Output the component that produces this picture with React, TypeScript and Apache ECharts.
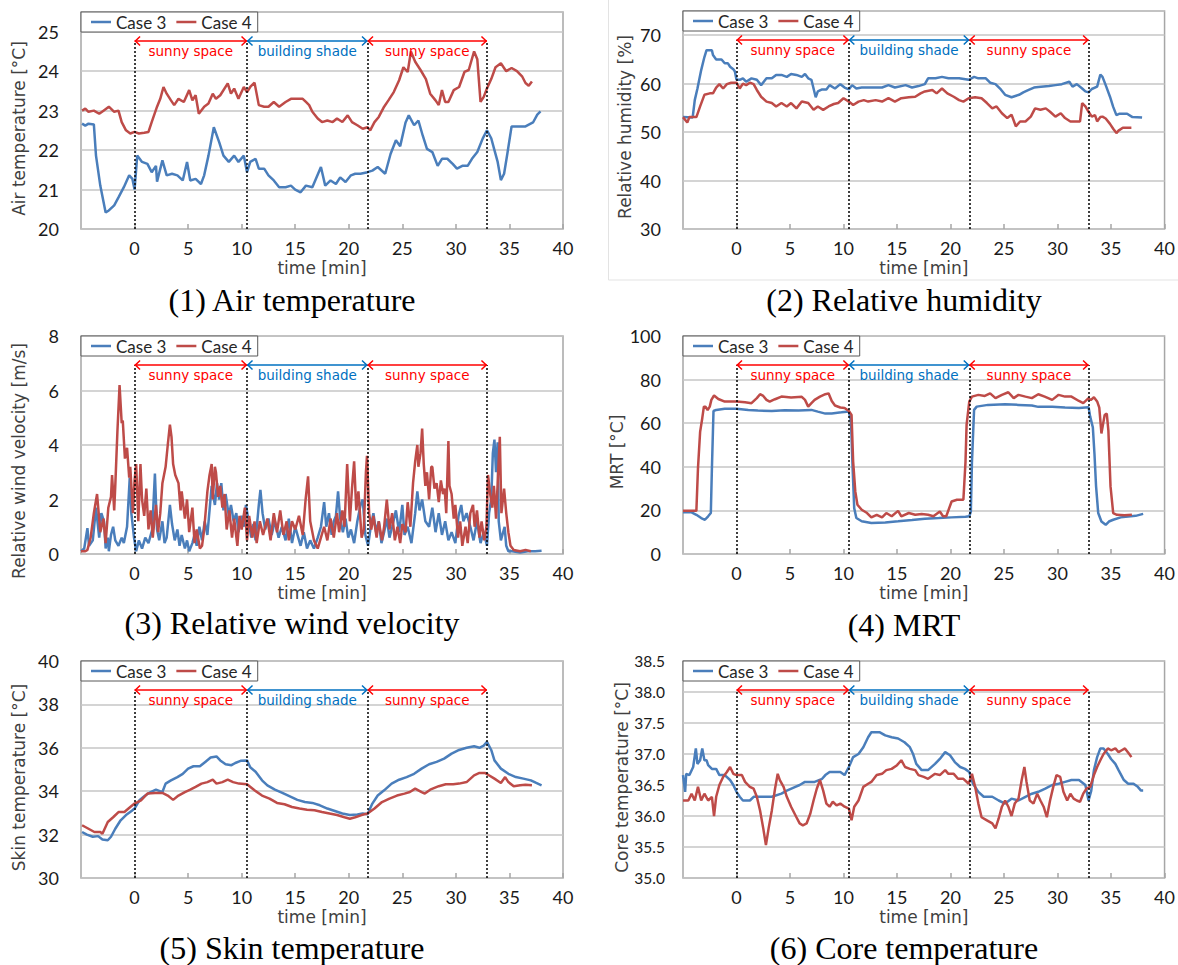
import React, { useEffect, useRef } from 'react';
import * as echarts from 'echarts';

// ---------------- data (time [min], value) ----------------
const AIR_CASE3: number[][] = [[-4.9,22.67],[-4.6,22.62],[-4.3,22.67],[-3.8,22.65],[-3.6,21.86],[-3.2,21.1],[-2.7,20.42],[-2.4,20.47],[-1.9,20.6],[-1.5,20.8],[-1.0,21.06],[-0.5,21.36],[-0.2,21.27],[0,21.0],[0.25,21.86],[0.7,21.7],[1.2,21.65],[1.6,21.44],[2.0,21.6],[2.1,21.2],[2.6,21.74],[3.0,21.36],[3.5,21.4],[4.0,21.36],[4.5,21.23],[4.9,21.7],[5.2,21.23],[5.7,21.27],[6.2,21.14],[6.5,21.36],[6.9,21.86],[7.4,22.58],[7.9,22.2],[8.3,21.86],[8.8,21.7],[9.3,21.86],[9.7,21.7],[10.2,21.86],[10.5,21.44],[10.8,21.7],[11.3,21.78],[11.6,21.53],[12.1,21.53],[12.5,21.36],[13.0,21.23],[13.5,21.06],[14.1,21.06],[14.6,21.1],[15.0,21.0],[15.5,20.93],[16.0,21.1],[16.6,21.06],[17.4,21.57],[17.8,21.1],[18.3,21.23],[18.8,21.14],[19.2,21.31],[19.7,21.19],[20.2,21.36],[20.6,21.4],[21.1,21.4],[21.75,21.44],[22.2,21.48],[22.7,21.57],[23.4,21.4],[23.9,21.9],[24.4,22.25],[24.8,22.1],[25.3,22.7],[25.6,22.88],[26.1,22.63],[26.5,22.75],[26.9,22.37],[27.3,22.03],[27.8,21.95],[28.3,21.6],[28.7,21.78],[29.2,21.78],[29.7,21.65],[30.1,21.53],[30.6,21.6],[31.1,21.6],[31.5,21.78],[32.0,21.95],[32.5,22.29],[32.9,22.5],[33.3,22.3],[33.6,22.0],[33.9,21.7],[34.2,21.24],[34.5,21.4],[34.8,21.9],[35.2,22.6],[35.8,22.6],[36.5,22.6],[37.2,22.7],[37.6,22.9],[37.9,22.98]];
const AIR_CASE4: number[][] = [[-4.9,23.0],[-4.6,23.05],[-4.3,22.97],[-3.8,23.0],[-3.3,22.92],[-2.9,23.0],[-2.4,23.1],[-1.9,22.97],[-1.5,23.0],[-1.2,22.71],[-0.8,22.5],[-0.4,22.42],[0,22.46],[0.4,22.42],[0.9,22.44],[1.3,22.46],[1.6,22.71],[2.1,23.1],[2.4,23.3],[2.7,23.6],[3.0,23.43],[3.4,23.26],[3.7,23.14],[4.1,23.3],[4.6,23.22],[5.1,23.52],[5.4,23.26],[5.7,23.39],[6.0,22.92],[6.5,23.1],[6.9,23.18],[7.3,23.43],[7.6,23.3],[8.0,23.39],[8.7,23.69],[9.0,23.43],[9.3,23.56],[9.7,23.3],[10.2,23.6],[10.5,23.47],[10.8,23.6],[11.2,23.71],[11.6,23.14],[12.1,23.1],[12.5,23.1],[13.0,23.22],[13.5,23.1],[14.1,23.22],[14.6,23.3],[15.0,23.3],[15.7,23.3],[16.0,23.22],[16.3,23.14],[16.6,22.97],[17.1,22.8],[17.5,22.71],[18.0,22.75],[18.5,22.71],[18.9,22.8],[19.4,22.71],[19.9,22.88],[20.3,22.71],[20.8,22.63],[21.3,22.54],[21.75,22.58],[22.0,22.5],[22.4,22.71],[22.8,22.84],[23.3,23.1],[23.7,23.26],[24.2,23.47],[24.7,23.77],[25.1,24.1],[25.5,23.98],[25.8,24.5],[26.2,24.24],[26.7,24.03],[27.2,23.8],[27.6,23.43],[28.1,23.26],[28.4,23.14],[28.7,23.52],[29.0,23.22],[29.3,23.22],[29.8,23.52],[30.3,23.6],[30.8,23.98],[31.2,24.03],[31.7,24.5],[32.0,24.3],[32.3,23.22],[32.6,23.35],[32.9,23.56],[33.3,23.8],[33.7,24.1],[34.2,24.2],[34.7,24.0],[35.2,24.08],[35.7,24.0],[36.2,23.86],[36.5,23.7],[36.8,23.63],[37.1,23.74]];

const RH_CASE3: number[][] = [[-5.0,53.1],[-4.1,53.0],[-3.9,56.6],[-3.65,59.0],[-3.3,62.8],[-3.0,65.5],[-2.8,66.9],[-2.3,66.9],[-2.2,65.9],[-1.9,65.0],[-1.4,65.0],[-1.1,64.2],[-0.8,64.2],[-0.6,63.5],[-0.3,63.0],[-0.15,62.5],[0,60.8],[0.3,60.8],[0.6,61.1],[0.9,60.4],[1.4,61.1],[1.9,60.8],[2.3,59.7],[2.8,61.1],[3.3,61.1],[3.7,61.8],[4.2,61.8],[4.7,61.4],[5.1,62.0],[5.6,61.8],[6.1,61.4],[6.4,62.0],[6.7,61.1],[7.0,60.8],[7.2,59.0],[7.4,57.2],[7.6,58.4],[8.0,58.8],[8.4,58.8],[8.7,59.7],[9.2,59.0],[9.7,59.9],[10.1,59.2],[10.5,58.8],[10.8,59.7],[11.2,59.0],[11.7,59.2],[12.6,59.2],[13.6,59.2],[14.2,59.7],[14.8,59.2],[15.8,59.7],[16.4,59.2],[17.0,59.5],[17.6,59.9],[17.9,61.1],[18.6,61.1],[19.2,61.4],[19.8,61.1],[20.8,61.1],[21.7,60.8],[22.2,61.4],[22.6,61.1],[23.3,61.1],[23.7,60.2],[24.2,59.9],[24.7,58.8],[25.1,57.7],[25.7,57.2],[26.4,57.7],[26.8,58.2],[27.3,58.7],[27.8,59.2],[28.2,59.3],[29.2,59.5],[29.8,59.7],[30.4,59.9],[31.1,60.4],[31.4,59.4],[31.8,59.9],[32.3,59.0],[32.6,58.4],[32.9,58.2],[33.2,58.9],[33.7,59.4],[34.0,61.9],[34.2,61.4],[34.5,59.7],[34.9,57.3],[35.2,55.2],[35.5,53.5],[35.8,53.8],[36.5,53.8],[37.0,53.1],[37.9,53.0]];
const RH_CASE4: number[][] = [[-5.0,53.1],[-4.6,52.0],[-4.4,53.1],[-3.75,53.1],[-3.4,55.3],[-3.0,57.7],[-2.5,58.0],[-2.2,58.0],[-1.9,59.2],[-1.6,59.9],[-1.25,59.0],[-0.9,59.9],[-0.5,60.2],[0,60.2],[0.3,59.0],[0.6,60.0],[0.9,59.7],[1.25,60.2],[1.6,59.9],[1.9,58.7],[2.3,57.3],[2.8,56.3],[3.3,56.0],[3.7,55.3],[4.2,56.0],[4.7,55.3],[5.1,56.0],[5.6,54.9],[6.1,56.3],[6.7,56.0],[7.2,54.6],[7.6,55.3],[8.1,54.6],[8.6,55.3],[9.1,55.8],[9.5,56.0],[10.0,57.0],[10.5,56.3],[10.9,55.6],[11.4,56.3],[11.9,56.6],[12.3,56.3],[13.0,56.6],[13.6,56.3],[14.2,57.0],[14.8,56.3],[15.4,57.0],[16.1,57.2],[16.7,57.3],[17.2,58.0],[17.6,58.4],[18.3,58.7],[18.7,58.0],[19.2,59.0],[19.7,58.0],[20.3,57.3],[20.8,56.6],[21.2,56.3],[21.7,57.0],[22.3,57.2],[22.9,57.0],[23.4,56.0],[23.9,54.9],[24.3,55.3],[24.8,53.9],[25.3,52.9],[25.7,53.6],[26.1,51.2],[26.5,52.2],[27.0,52.2],[27.5,53.2],[27.9,54.9],[28.4,54.6],[28.9,54.9],[29.3,54.2],[29.8,53.2],[30.3,53.9],[30.7,52.9],[31.2,52.2],[31.7,52.2],[32.1,52.2],[32.3,56.0],[32.6,55.3],[32.9,54.2],[33.2,53.2],[33.5,53.5],[33.7,52.2],[34.0,53.1],[34.2,53.2],[34.5,52.8],[34.9,51.7],[35.2,50.7],[35.5,49.8],[35.7,50.3],[36.1,50.9],[36.9,50.9]];

const WIND_CASE3: number[][] = [[-5.0,0.1],[-4.7,0.2],[-4.4,0.95],[-4.25,0.3],[-3.9,0.5],[-3.6,1.7],[-3.3,0.6],[-3.1,1.5],[-2.85,1.2],[-2.7,0.2],[-2.5,0.6],[-2.4,0.1],[-2.2,0.7],[-2.0,1.0],[-1.8,0.5],[-1.5,0.3],[-1.2,0.6],[-1.0,0.4],[-0.7,1.0],[-0.45,2.8],[-0.3,1.5],[-0.05,0.6],[0.15,0.1],[0.4,0.5],[0.7,0.2],[1.0,0.6],[1.3,0.4],[1.65,0.9],[1.9,2.95],[2.1,0.9],[2.3,0.5],[2.6,1.2],[2.8,0.4],[3.0,0.6],[3.3,1.8],[3.5,1.1],[3.75,0.5],[4.0,0.9],[4.2,0.3],[4.4,0.7],[4.7,0.2],[4.9,0.5],[5.1,0.1],[5.4,0.4],[5.6,0.7],[5.8,0.3],[6.05,1.0],[6.3,0.5],[6.55,1.2],[6.8,0.7],[7.0,1.6],[7.2,2.5],[7.5,1.8],[7.7,2.6],[7.9,2.0],[8.1,2.6],[8.3,1.6],[8.5,2.2],[8.8,1.4],[9.0,1.8],[9.25,1.2],[9.5,1.5],[9.7,0.8],[10.0,1.4],[10.2,1.0],[10.4,1.8],[10.65,1.2],[10.9,0.6],[11.1,1.1],[11.3,0.5],[11.6,1.8],[11.75,2.35],[11.95,1.5],[12.2,0.9],[12.5,1.3],[12.8,0.7],[13.1,1.2],[13.45,0.6],[13.75,1.0],[14.1,0.5],[14.4,1.3],[14.7,0.4],[15.0,1.0],[15.5,0.3],[15.8,0.8],[16.1,0.2],[16.4,0.5],[16.75,0.2],[17.1,0.6],[17.4,1.0],[17.7,1.9],[17.9,1.0],[18.15,1.5],[18.4,0.7],[18.6,1.2],[18.8,1.4],[19.0,2.3],[19.2,1.3],[19.45,0.8],[19.7,1.3],[19.95,0.6],[20.2,0.9],[20.5,0.4],[20.8,1.2],[21.1,1.8],[21.3,2.0],[21.55,0.7],[21.8,0.3],[22.05,1.0],[22.3,1.5],[22.55,0.8],[22.8,1.2],[23.05,0.4],[23.3,0.8],[23.55,1.3],[23.8,0.6],[24.05,1.0],[24.4,1.6],[24.7,0.8],[25.0,1.8],[25.2,0.7],[25.5,1.0],[25.85,0.4],[26.2,1.5],[26.4,2.3],[26.6,1.6],[26.85,2.0],[27.15,1.2],[27.5,1.0],[27.8,1.7],[28.1,0.8],[28.4,1.5],[28.7,0.7],[29.0,1.2],[29.3,0.5],[29.6,0.8],[29.95,0.4],[30.25,1.4],[30.5,1.8],[30.7,1.2],[31.0,1.5],[31.35,1.0],[31.65,0.5],[31.97,1.2],[32.3,0.4],[32.6,0.8],[32.9,0.3],[33.1,1.5],[33.3,2.0],[33.45,3.7],[33.6,4.2],[33.75,3.0],[33.9,4.1],[34.0,1.2],[34.2,0.5],[34.55,1.0],[34.7,0.3],[34.9,0.1],[35.25,0.1],[36.0,0.05],[36.7,0.1],[37.4,0.1],[38.0,0.12]];
const WIND_CASE4: number[][] = [[-5.0,0.1],[-4.6,0.1],[-4.4,0.15],[-4.1,0.6],[-3.8,1.5],[-3.5,2.2],[-3.2,0.8],[-2.9,1.3],[-2.7,0.4],[-2.45,1.7],[-2.2,2.1],[-2.1,2.9],[-1.9,1.6],[-1.8,2.5],[-1.6,4.5],[-1.4,6.2],[-1.2,4.8],[-1.1,4.9],[-0.9,3.5],[-0.7,3.9],[-0.5,2.8],[-0.4,3.2],[-0.15,1.5],[0,2.7],[0.15,3.3],[0.35,1.2],[0.55,3.3],[0.7,2.0],[0.9,1.4],[1.1,2.4],[1.3,0.9],[1.5,1.6],[1.7,0.6],[2.0,1.8],[2.2,0.8],[2.4,1.5],[2.6,2.6],[2.9,3.2],[3.1,4.0],[3.3,4.75],[3.45,4.3],[3.6,3.3],[3.8,2.9],[4.1,2.6],[4.3,1.6],[4.4,2.3],[4.7,1.3],[4.9,2.0],[5.1,0.8],[5.4,1.7],[5.6,0.4],[5.8,0.9],[6.1,0.2],[6.3,0.3],[6.5,0.9],[6.8,2.3],[7.0,2.9],[7.2,3.3],[7.3,2.0],[7.5,3.2],[7.6,3.0],[7.8,2.1],[8.0,2.5],[8.2,1.7],[8.4,2.2],[8.6,0.9],[8.85,1.6],[9.1,0.6],[9.3,1.3],[9.6,0.3],[9.8,1.4],[10.0,0.9],[10.3,1.7],[10.5,0.5],[10.7,1.4],[11.0,0.6],[11.2,1.2],[11.4,0.4],[11.7,1.2],[12.0,0.7],[12.4,1.3],[12.7,0.5],[13.0,1.5],[13.3,0.8],[13.6,1.6],[13.9,0.7],[14.2,1.2],[14.4,0.5],[14.7,1.2],[15.0,0.9],[15.35,1.4],[15.7,0.7],[15.97,2.0],[16.2,2.85],[16.4,1.2],[16.75,0.5],[17.1,0.2],[17.4,0.6],[17.7,1.0],[18.0,0.5],[18.3,1.3],[18.6,0.6],[18.9,1.5],[19.1,0.8],[19.4,1.6],[19.6,1.0],[19.85,3.3],[20.1,1.2],[20.3,2.4],[20.5,3.4],[20.7,1.6],[20.9,2.3],[21.2,0.6],[21.4,0.9],[21.6,3.0],[21.7,3.6],[21.9,1.5],[22.1,0.9],[22.3,1.4],[22.6,0.6],[22.8,1.2],[23.1,0.5],[23.3,1.0],[23.55,2.0],[23.8,0.9],[24.05,1.5],[24.3,0.5],[24.55,1.0],[24.8,0.4],[25.0,1.1],[25.3,0.8],[25.5,1.9],[25.75,1.0],[26.0,2.6],[26.2,3.4],[26.4,4.0],[26.5,3.2],[26.7,3.7],[26.85,4.6],[27.0,3.3],[27.15,2.5],[27.3,3.0],[27.5,2.0],[27.7,3.2],[27.8,3.2],[28.0,2.4],[28.2,2.6],[28.4,1.9],[28.6,2.7],[28.8,2.2],[28.95,2.4],[29.1,1.5],[29.3,4.15],[29.4,2.5],[29.6,2.2],[29.8,1.3],[29.95,1.8],[30.2,0.6],[30.4,1.2],[30.6,0.3],[30.9,1.0],[31.1,0.4],[31.35,1.5],[31.6,1.8],[31.75,1.0],[31.97,1.6],[32.2,0.6],[32.4,1.2],[32.65,0.5],[32.85,1.0],[33.0,2.9],[33.2,2.2],[33.4,1.7],[33.55,2.5],[33.75,1.3],[33.9,2.6],[34.1,4.3],[34.25,1.5],[34.5,2.4],[34.7,1.5],[34.9,0.8],[35.1,0.3],[35.4,0.15],[36.0,0.1],[36.5,0.15],[37.0,0.1]];

const MRT_CASE3: number[][] = [[-5.0,19.2],[-4.2,19.1],[-3.75,18.0],[-3.3,16.5],[-2.95,15.7],[-2.65,17.3],[-2.4,18.8],[-2.3,39.0],[-2.15,65.6],[-1.9,66.1],[-1.1,66.6],[0,66.6],[1.1,66.1],[2.0,65.8],[3.3,65.6],[4.5,65.9],[5.8,65.8],[7.0,66.1],[7.6,65.3],[8.3,64.4],[8.9,64.5],[9.8,65.0],[10.3,65.3],[10.5,65.3],[10.7,60.8],[10.85,39.4],[11.0,21.0],[11.2,16.5],[11.7,15.0],[12.6,14.2],[13.9,14.5],[15.1,15.0],[16.4,15.6],[17.6,16.2],[18.9,16.5],[20.1,16.8],[21.4,17.1],[21.75,17.3],[21.9,19.5],[22.0,42.0],[22.2,66.1],[22.45,67.6],[23.5,68.4],[25.1,68.7],[26.35,68.4],[27.6,68.1],[28.2,67.5],[29.5,67.5],[30.7,67.2],[32.0,67.0],[32.9,67.3],[33.05,63],[33.3,58],[33.45,46],[33.6,31],[33.8,18.8],[34.1,14.9],[34.5,13.4],[34.8,14.9],[35.2,15.7],[35.9,16.8],[36.6,17.2],[37.3,17.5],[38.0,18.4]];
const MRT_CASE4: number[][] = [[-5.0,19.8],[-3.75,19.8],[-3.6,39.4],[-3.4,56.0],[-3.2,62.3],[-3.05,67.6],[-2.9,67.6],[-2.7,66.0],[-2.5,67.6],[-2.35,70.7],[-2.1,72.7],[-1.7,71.1],[-1.1,69.9],[0,69.9],[0.8,69.6],[1.4,69.2],[1.9,71.5],[2.2,73.3],[2.5,72.5],[2.8,70.7],[3.1,69.9],[3.6,71.0],[4.2,72.2],[5.1,71.8],[6.1,72.1],[6.4,70.7],[6.7,67.6],[7.0,69.2],[7.3,70.7],[7.8,72.2],[8.3,73.3],[8.6,73.7],[8.9,70.2],[9.2,68.1],[9.7,67.2],[10.1,67.0],[10.5,65.6],[10.75,63.8],[10.9,42.4],[11.1,28.7],[11.3,22.6],[11.7,20.3],[12.2,18.8],[12.6,16.8],[13.1,18.0],[13.6,16.8],[14.0,18.8],[14.5,17.3],[15.1,19.8],[15.4,17.3],[16.1,18.8],[16.7,18.0],[17.3,18.3],[17.9,18.0],[18.4,17.3],[19.0,19.5],[19.3,17.3],[19.6,17.3],[20.1,24.1],[20.6,24.9],[21.2,24.9],[21.4,42.4],[21.5,59.2],[21.75,69.9],[22.0,72.2],[22.6,73.0],[23.2,72.5],[23.7,73.7],[24.2,71.5],[24.8,73.0],[25.4,74.2],[25.9,71.5],[26.35,73.0],[27.0,72.2],[27.6,71.5],[28.2,73.3],[28.8,72.2],[29.5,70.7],[30.1,73.0],[30.7,72.2],[31.3,72.2],[32.0,70.2],[32.4,69.2],[32.9,71.5],[33.1,70.6],[33.4,71.9],[33.7,70.0],[33.9,67.1],[34.1,55.3],[34.4,63.7],[34.6,64.4],[34.75,56.7],[34.95,31.0],[35.2,18.8],[35.55,18.0],[36.25,17.8],[36.95,18.0]];

const SKIN_CASE3: number[][] = [[-4.9,32.12],[-4.45,32.0],[-3.9,31.9],[-3.4,31.93],[-3.0,31.77],[-2.5,31.74],[-2.2,31.9],[-1.8,32.27],[-1.3,32.66],[-0.8,32.9],[-0.25,33.1],[0,33.2],[0.45,33.58],[1.0,33.8],[1.5,33.96],[2.0,34.07],[2.6,33.96],[2.9,34.35],[3.4,34.5],[4.0,34.65],[4.5,34.8],[5.0,35.04],[5.5,35.15],[6.1,35.15],[6.6,35.35],[7.1,35.55],[7.65,35.6],[8.0,35.42],[8.5,35.24],[9.05,35.2],[9.4,35.3],[9.9,35.4],[10.5,35.42],[10.8,35.1],[11.3,34.9],[11.9,34.5],[12.4,34.27],[13.1,34.07],[13.8,33.92],[14.5,33.76],[15.2,33.6],[15.9,33.5],[16.6,33.46],[17.3,33.35],[18.0,33.2],[18.7,33.09],[19.4,32.97],[20.1,32.9],[20.8,32.93],[21.3,32.97],[21.75,32.94],[22.2,33.43],[22.7,33.8],[23.3,34.04],[24.0,34.35],[24.7,34.53],[25.4,34.65],[26.1,34.8],[26.8,35.04],[27.5,35.24],[28.2,35.35],[28.9,35.5],[29.6,35.73],[30.3,35.9],[31.0,36.0],[31.7,36.07],[32.2,36.0],[32.6,36.1],[32.9,36.27],[33.3,35.9],[33.6,35.42],[34.2,35.04],[34.9,34.8],[35.6,34.65],[36.3,34.58],[37.0,34.5],[37.5,34.38],[38.0,34.27]];
const SKIN_CASE4: number[][] = [[-4.9,32.43],[-4.3,32.27],[-3.75,32.12],[-3.2,32.12],[-3.0,32.04],[-2.5,32.58],[-2.0,32.8],[-1.5,33.04],[-0.95,33.04],[-0.4,33.27],[0,33.43],[0.6,33.58],[1.2,33.89],[1.9,33.92],[2.6,33.92],[3.1,33.8],[3.6,33.6],[4.1,33.8],[4.7,33.96],[5.2,34.07],[5.7,34.2],[6.25,34.35],[6.8,34.42],[7.3,34.53],[7.65,34.35],[8.2,34.42],[8.7,34.53],[9.2,34.42],[9.75,34.35],[10.5,34.32],[11.2,34.04],[11.9,33.8],[12.6,33.66],[13.3,33.46],[14.0,33.4],[14.7,33.27],[15.4,33.2],[16.1,33.15],[16.8,33.12],[17.5,33.04],[18.2,32.97],[18.9,32.9],[19.6,32.8],[20.1,32.73],[20.6,32.8],[21.2,32.9],[21.75,32.97],[22.4,33.2],[23.1,33.5],[23.8,33.66],[24.5,33.8],[25.2,33.89],[25.7,33.96],[26.2,34.12],[26.8,33.96],[27.1,33.89],[27.6,34.07],[28.4,34.23],[29.05,34.32],[29.75,34.32],[30.3,34.35],[31.0,34.42],[31.7,34.73],[32.2,34.84],[32.7,34.84],[33.0,34.76],[33.6,34.58],[34.2,34.38],[34.6,34.65],[34.9,34.42],[35.4,34.23],[36.0,34.27],[36.5,34.3],[37.1,34.27]];

const CORE_CASE3: number[][] = [[-5.0,36.66],[-4.8,36.39],[-4.7,36.68],[-4.4,36.66],[-4.05,36.79],[-3.8,37.09],[-3.65,36.84],[-3.4,36.9],[-3.2,37.09],[-3.0,36.9],[-2.8,36.9],[-2.65,36.82],[-2.3,36.76],[-1.9,36.76],[-1.6,36.66],[-1.1,36.66],[-0.6,36.58],[-0.3,36.5],[0,36.39],[0.3,36.31],[0.6,36.25],[1.25,36.25],[1.6,36.31],[2.3,36.31],[3.3,36.31],[4.2,36.36],[4.7,36.41],[5.5,36.47],[5.9,36.5],[6.4,36.55],[6.9,36.55],[7.3,36.55],[8.0,36.6],[8.3,36.66],[8.7,36.71],[9.2,36.71],[9.7,36.71],[10.1,36.66],[10.5,36.79],[10.9,36.95],[11.4,37.0],[11.85,37.11],[12.3,37.27],[12.6,37.35],[13.4,37.35],[13.9,37.3],[14.5,37.27],[15.1,37.25],[15.7,37.19],[16.2,37.11],[16.5,37.0],[16.8,36.84],[17.3,36.74],[17.9,36.74],[18.55,36.84],[19.0,36.92],[19.5,37.03],[19.95,36.98],[20.4,36.87],[20.9,36.79],[21.35,36.76],[21.75,36.71],[22.1,36.52],[22.6,36.39],[23.1,36.31],[23.9,36.31],[24.5,36.25],[25.1,36.2],[25.7,36.28],[26.35,36.25],[27.0,36.31],[27.6,36.36],[28.2,36.39],[28.85,36.44],[29.5,36.5],[30.1,36.52],[30.7,36.55],[31.3,36.58],[32.0,36.58],[32.6,36.5],[32.9,36.25],[33.15,36.41],[33.4,36.74],[33.7,36.95],[34.0,37.09],[34.3,37.09],[34.7,37.0],[35.0,36.92],[35.4,36.84],[35.7,36.74],[36.2,36.58],[36.6,36.52],[37.1,36.52],[37.5,36.47],[37.8,36.41],[38.0,36.41]];
const CORE_CASE4: number[][] = [[-5.0,36.25],[-4.5,36.25],[-4.2,36.36],[-3.9,36.25],[-3.6,36.47],[-3.3,36.25],[-3.0,36.36],[-2.65,36.25],[-2.3,36.31],[-2.1,36.0],[-1.9,36.31],[-1.6,36.5],[-1.25,36.63],[-0.9,36.71],[-0.6,36.79],[-0.3,36.68],[0,36.66],[0.5,36.66],[0.8,36.55],[1.25,36.47],[1.6,36.44],[1.9,36.31],[2.2,36.09],[2.5,35.8],[2.75,35.53],[3.0,35.8],[3.3,36.09],[3.6,36.44],[3.85,36.68],[4.05,36.58],[4.4,36.47],[4.7,36.31],[5.1,36.15],[5.6,35.98],[5.9,35.88],[6.2,35.85],[6.55,35.88],[6.9,36.04],[7.2,36.25],[7.5,36.44],[7.8,36.58],[8.1,36.41],[8.4,36.2],[8.7,36.15],[9.0,36.23],[9.35,36.17],[9.7,36.2],[10.1,36.15],[10.5,36.12],[10.75,35.93],[11.0,36.15],[11.4,36.25],[11.85,36.47],[12.3,36.52],[12.6,36.55],[13.1,36.66],[13.6,36.68],[14.0,36.74],[14.5,36.76],[15.0,36.82],[15.4,36.9],[15.75,36.79],[16.2,36.76],[16.7,36.74],[17.0,36.66],[17.5,36.63],[17.9,36.6],[18.55,36.68],[19.0,36.66],[19.5,36.74],[19.8,36.68],[20.3,36.68],[20.7,36.6],[21.2,36.6],[21.7,36.52],[22.0,36.68],[22.3,36.47],[22.6,36.2],[22.9,35.98],[23.4,35.93],[23.9,35.88],[24.2,35.8],[24.5,35.96],[24.8,36.15],[25.1,36.25],[25.4,36.15],[25.7,36.0],[26.0,36.2],[26.35,36.28],[26.65,36.58],[26.9,36.79],[27.1,36.55],[27.4,36.25],[27.75,36.2],[28.1,36.36],[28.4,36.25],[28.7,36.15],[29.0,35.98],[29.3,36.25],[29.6,36.47],[29.9,36.66],[30.25,36.63],[30.55,36.39],[30.9,36.25],[31.2,36.36],[31.5,36.28],[31.8,36.25],[32.1,36.23],[32.4,36.36],[32.7,36.44],[33.05,36.47],[33.4,36.66],[33.7,36.79],[34.0,36.9],[34.3,37.0],[34.7,37.09],[35.0,37.06],[35.4,37.09],[35.7,37.03],[36.0,37.06],[36.3,37.09],[36.7,37.0],[36.9,36.95]];

// phase boundaries [min] and their labels
const PHASE_BOUNDS = [0, 10.5, 21.75, 32.9];
const PHASE_LABELS = ['sunny space', 'building shade', 'sunny space'];
const SERIES_NAMES = ['Case 3', 'Case 4'];

// ---------------- styles / layout ----------------
const BLUE = '#4A7EBB';
const RED = '#BE4B48';
const ANN_RED = '#FF0000';
const ANN_BLUE = '#0070C0';
const PHASE_COLORS = [ANN_RED, ANN_BLUE, ANN_RED];
const ARROW_OFFSET_PX = 29; // arrow row distance below plot top

const PANELS = [
  { title: 'Air temperature [°C]', caption: '(1) Air temperature', min: 20, max: 25.5, interval: 1, showMax: false, c3: AIR_CASE3, c4: AIR_CASE4, left: 81, top: 12, width: 482, height: 217, nameGap: 54, shift: 8, capX: 292, capY: 300, labelSize: 18, margin: 22, decimals: 0 },
  { title: 'Relative humidity [%]', caption: '(2) Relative humidity', min: 30, max: 75, interval: 10, showMax: false, c3: RH_CASE3, c4: RH_CASE4, left: 683, top: 11, width: 483, height: 218, nameGap: 50, shift: 7, capX: 904, capY: 300, labelSize: 18, margin: 22, decimals: 0 },
  { title: 'Relative wind velocity [m/s]', caption: '(3) Relative wind velocity', min: 0, max: 8, interval: 2, showMax: true, c3: WIND_CASE3, c4: WIND_CASE4, left: 81, top: 336, width: 482, height: 218, nameGap: 54, shift: 16, capX: 292, capY: 623, labelSize: 18, margin: 22, decimals: 0 },
  { title: 'MRT [°C]', caption: '(4) MRT', min: 0, max: 100, interval: 20, showMax: true, c3: MRT_CASE3, c4: MRT_CASE4, left: 683, top: 336, width: 483, height: 218, nameGap: 52, shift: 7, capX: 904, capY: 625, labelSize: 18, margin: 22, decimals: 0 },
  { title: 'Skin temperature [°C]', caption: '(5) Skin temperature', min: 30, max: 40, interval: 2, showMax: true, c3: SKIN_CASE3, c4: SKIN_CASE4, left: 81, top: 661, width: 482, height: 217, nameGap: 54, shift: 8, capX: 292, capY: 948, labelSize: 18, margin: 22, decimals: 0 },
  { title: 'Core temperature [°C]', caption: '(6) Core temperature', min: 35, max: 38.5, interval: 0.5, showMax: true, c3: CORE_CASE3, c4: CORE_CASE4, left: 683, top: 661, width: 483, height: 217, nameGap: 51, shift: 8, capX: 904, capY: 948, labelSize: 15.5, margin: 18, decimals: 1 },
];

const arrowValue = (p: typeof PANELS[number]) => p.max - (p.max - p.min) * ARROW_OFFSET_PX / p.height;

function baseGraphic(): any[] {
  const g: any[] = PANELS.map((p) => ({
    type: 'text', x: p.capX, y: p.capY, silent: true,
    style: { text: p.caption, fontFamily: 'Liberation Serif', fontSize: 32, fill: '#000', textAlign: 'center', textVerticalAlign: 'middle' },
  }));
  g.push({
    type: 'rect', silent: true, z: -1,
    shape: { x: 608.5, y: -2, width: 580, height: 282 },
    style: { fill: 'none', stroke: '#e3e3e3', lineWidth: 1 },
  });
  return g;
}

function buildOption() {
  const grid: any[] = [];
  const xAxis: any[] = [];
  const yAxis: any[] = [];
  const series: any[] = [];
  const legend: any[] = [];

  PANELS.forEach((p, i) => {
    grid.push({
      left: p.left, top: p.top, width: p.width, height: p.height,
      show: true, borderColor: '#a6a6a6', borderWidth: 1.5, backgroundColor: 'transparent',
    });
    xAxis.push({
      gridIndex: i, type: 'value', min: -5, max: 40, interval: 5,
      name: 'time [min]', nameLocation: 'middle', nameGap: 30,
      nameTextStyle: { fontFamily: 'DejaVu Sans', fontSize: 17, color: '#404040' },
      axisLine: { show: false },
      axisTick: { show: true, inside: true, length: 5, lineStyle: { color: '#a6a6a6', width: 1.5 } },
      axisLabel: { showMinLabel: false, showMaxLabel: true, margin: 10, fontFamily: 'Lato', fontSize: 18, color: '#1a1a1a' },
      splitLine: { show: false },
    });
    yAxis.push({
      gridIndex: i, type: 'value', min: p.min, max: p.max, interval: p.interval,
      name: p.title, nameLocation: 'middle', nameGap: p.nameGap,
      nameTextStyle: { fontFamily: 'DejaVu Sans', fontSize: 17, color: '#404040', padding: [0, p.shift * 2, 0, 0] },
      axisLine: { show: false },
      axisTick: { show: false },
      axisLabel: {
        showMinLabel: true, showMaxLabel: p.showMax, margin: p.margin,
        fontFamily: 'Lato', fontSize: p.labelSize, color: '#1a1a1a',
        formatter: (v: number) => v.toFixed(p.decimals),
      },
      splitLine: { show: true, lineStyle: { color: '#c6c6c6', width: 1.5 } },
    });

    const yArrow = arrowValue(p);
    const markData: any[] = [];
    PHASE_BOUNDS.forEach((b) => {
      markData.push([
        { coord: [b, p.min], lineStyle: { color: '#000', type: [2, 2], width: 1.5 }, label: { show: false } },
        { coord: [b, yArrow] },
      ]);
    });
    PHASE_LABELS.forEach((lab, k) => {
      const col = PHASE_COLORS[k];
      markData.push([
        {
          coord: [PHASE_BOUNDS[k], yArrow],
          lineStyle: { color: col, type: 'solid', width: 1.5 },
          label: { show: true, formatter: lab, position: 'insideMiddleBottom', distance: 3, color: col, fontFamily: 'DejaVu Sans', fontSize: 13.5 },
        },
        { coord: [PHASE_BOUNDS[k + 1], yArrow] },
      ]);
    });

    series.push({
      type: 'line', name: SERIES_NAMES[0], xAxisIndex: i, yAxisIndex: i, data: p.c3,
      symbol: 'none', showSymbol: false, z: 2,
      lineStyle: { color: BLUE, width: 2.5 }, itemStyle: { color: BLUE },
    });
    series.push({
      type: 'line', name: SERIES_NAMES[1], xAxisIndex: i, yAxisIndex: i, data: p.c4,
      symbol: 'none', showSymbol: false, z: 3,
      lineStyle: { color: RED, width: 2.5 }, itemStyle: { color: RED },
      markLine: {
        silent: true, animation: false, symbol: ['none', 'none'], precision: 3,
        label: { show: false },
        data: markData,
      },
    });

    legend.push({
      data: SERIES_NAMES, left: p.left, top: p.top, orient: 'horizontal',
      icon: 'rect', itemWidth: 20, itemHeight: 2.5, itemGap: 10,
      padding: [1, 6, 1, 10], backgroundColor: '#fff', borderColor: '#595959', borderWidth: 1,
      textStyle: { fontFamily: 'Lato', fontSize: 17, color: '#262626', lineHeight: 18 },
      selectedMode: false,
    });
  });

  return {
    animation: false,
    backgroundColor: '#fff',
    grid, xAxis, yAxis, series, legend,
    graphic: baseGraphic(),
  };
}

export default function App() {
  const ref = useRef<HTMLDivElement>(null);
  useEffect(() => {
    if (!ref.current) return;
    const chart = echarts.init(ref.current, null, { renderer: 'svg' });
    chart.setOption(buildOption() as any);

    // open arrow heads at both ends of each phase arrow, placed through the axes
    const heads: any[] = [];
    PANELS.forEach((p, i) => {
      const yArrow = arrowValue(p);
      PHASE_LABELS.forEach((_, k) => {
        const col = PHASE_COLORS[k];
        const a = chart.convertToPixel({ gridIndex: i } as any, [PHASE_BOUNDS[k], yArrow]) as number[];
        const b = chart.convertToPixel({ gridIndex: i } as any, [PHASE_BOUNDS[k + 1], yArrow]) as number[];
        heads.push({
          type: 'polyline', silent: true, z: 100,
          shape: { points: [[a[0] + 5.5, a[1] - 4.5], [a[0] + 0.8, a[1]], [a[0] + 5.5, a[1] + 4.5]] },
          style: { stroke: col, lineWidth: 1.5, fill: 'none' },
        });
        heads.push({
          type: 'polyline', silent: true, z: 100,
          shape: { points: [[b[0] - 5.5, b[1] - 4.5], [b[0] - 0.8, b[1]], [b[0] - 5.5, b[1] + 4.5]] },
          style: { stroke: col, lineWidth: 1.5, fill: 'none' },
        });
      });
    });
    chart.setOption({ graphic: [...baseGraphic(), ...heads] } as any);
    return () => chart.dispose();
  }, []);
  return (
    <div style={{ position: 'absolute', left: 0, top: 0, width: 1178, height: 965, background: '#fff' }}>
      <div ref={ref} style={{ width: 1178, height: 965 }} />
    </div>
  );
}
